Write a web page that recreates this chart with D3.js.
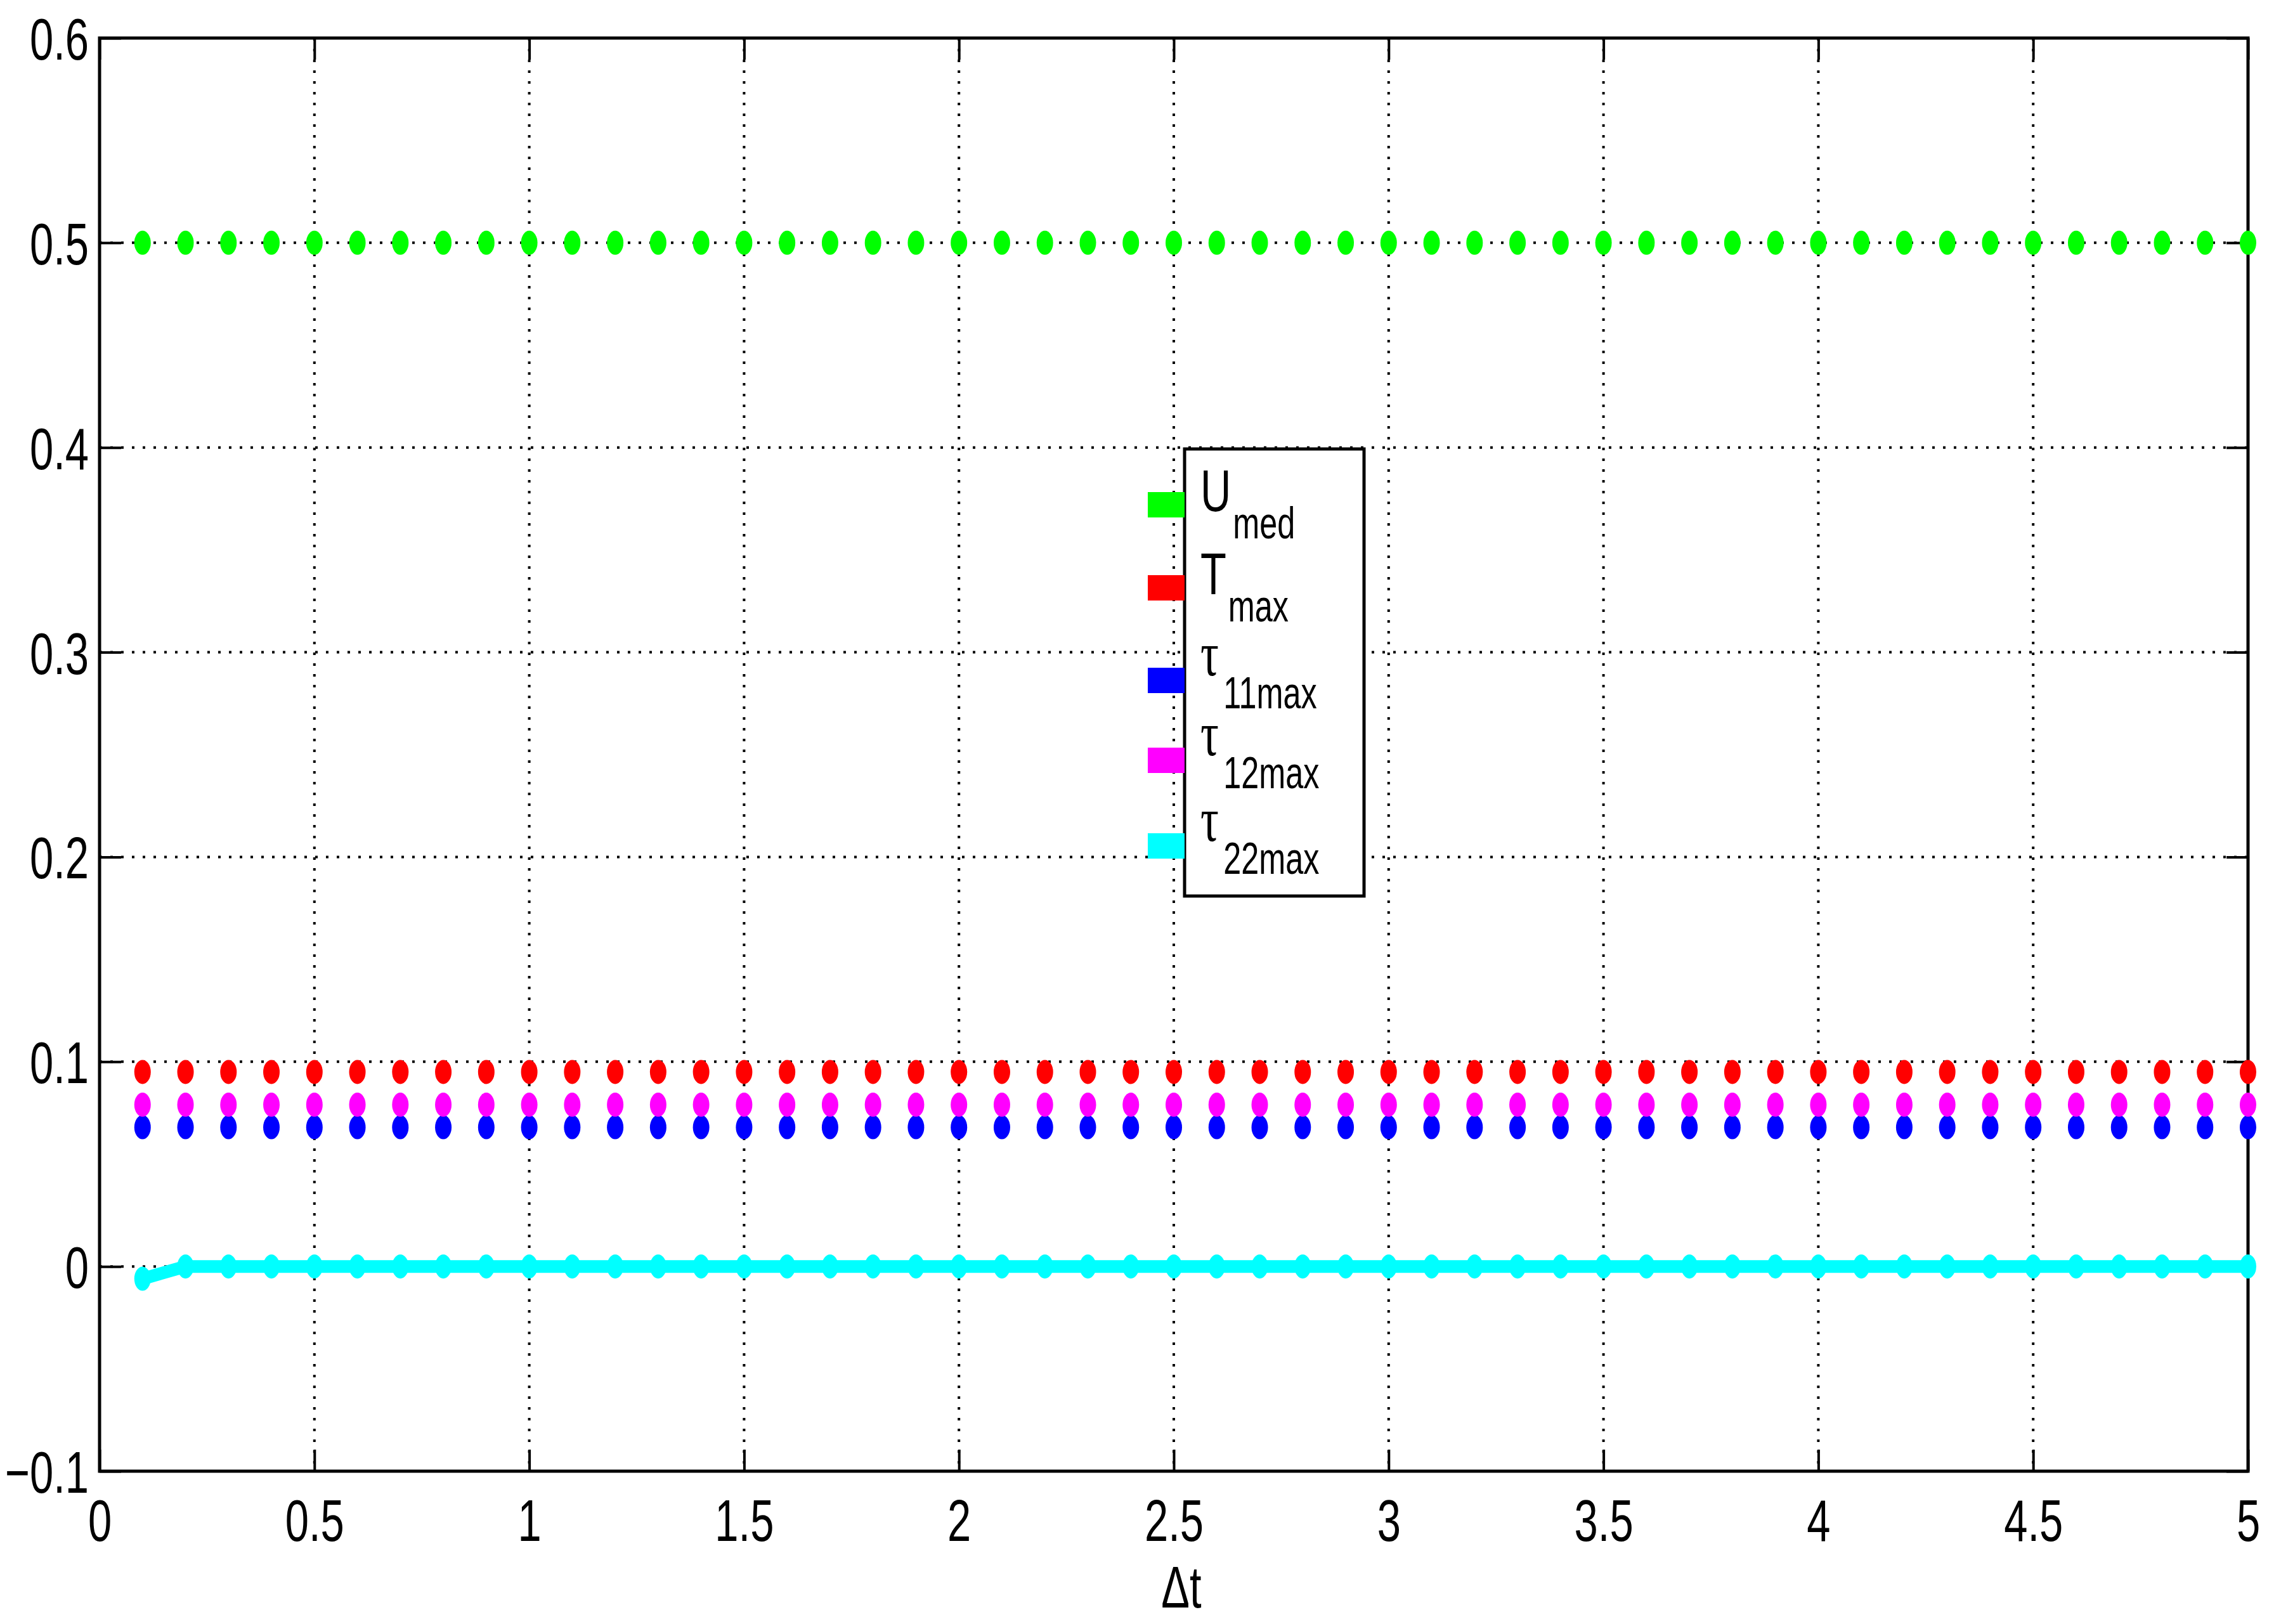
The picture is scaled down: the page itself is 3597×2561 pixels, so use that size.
<!DOCTYPE html>
<html>
<head>
<meta charset="utf-8">
<script src="https://cdn.jsdelivr.net/npm/d3@7"></script>
<style>
body { margin: 0; background: #fff; }
text { font-family: "Liberation Sans", Arial, sans-serif; fill: #000; }
</style>
</head>
<body>
<script>
// time steps
var dt = [0.1, 0.2, 0.3, 0.4, 0.5, 0.6, 0.7, 0.8, 0.9, 1.0,
          1.1, 1.2, 1.3, 1.4, 1.5, 1.6, 1.7, 1.8, 1.9, 2.0,
          2.1, 2.2, 2.3, 2.4, 2.5, 2.6, 2.7, 2.8, 2.9, 3.0,
          3.1, 3.2, 3.3, 3.4, 3.5, 3.6, 3.7, 3.8, 3.9, 4.0,
          4.1, 4.2, 4.3, 4.4, 4.5, 4.6, 4.7, 4.8, 4.9, 5.0];

var uMed   = dt.map(function () { return 0.5; });
var tMax   = dt.map(function () { return 0.095; });
var tau11  = dt.map(function () { return 0.068; });
var tau12  = dt.map(function () { return 0.079; });
var tau22  = [-0.006, 0, 0, 0, 0, 0, 0, 0, 0, 0,
              0, 0, 0, 0, 0, 0, 0, 0, 0, 0,
              0, 0, 0, 0, 0, 0, 0, 0, 0, 0,
              0, 0, 0, 0, 0, 0, 0, 0, 0, 0,
              0, 0, 0, 0, 0, 0, 0, 0, 0, 0];

var xTicks = [0, 0.5, 1, 1.5, 2, 2.5, 3, 3.5, 4, 4.5, 5];
var yTicks = [-0.1, 0, 0.1, 0.2, 0.3, 0.4, 0.5, 0.6];

var series = [
  { main: "U", sub: "med", greek: false, color: "#00ff00", values: uMed, line: false },
  { main: "T", sub: "max", greek: false, color: "#ff0000", values: tMax, line: false },
  { main: "\u03c4", sub: "11max", greek: true, color: "#0000ff", values: tau11, line: false },
  { main: "\u03c4", sub: "12max", greek: true, color: "#ff00ff", values: tau12, line: false },
  { main: "\u03c4", sub: "22max", greek: true, color: "#00ffff", values: tau22, line: true }
];

var W = 3597, H = 2561;
var pLeft = 157, pRight = 3545, pTop = 60, pBottom = 2320;
var sx = 0.72; // narrow glyphs like the original

var svg = d3.select("body").append("svg").attr("width", W).attr("height", H);

var x = d3.scaleLinear().domain([0, 5]).range([pLeft, pRight]);
var y = d3.scaleLinear().domain([-0.1, 0.6]).range([pBottom, pTop]);

// dotted grid
var grid = svg.append("g");
grid.selectAll(".gx").data(xTicks.slice(1, -1)).join("line").attr("class", "gx")
  .attr("x1", d => x(d)).attr("x2", d => x(d)).attr("y1", pTop).attr("y2", pBottom)
  .attr("stroke", "#000").attr("stroke-width", 4).attr("stroke-dasharray", "4,13");
grid.selectAll(".gy").data(yTicks.slice(1, -1)).join("line").attr("class", "gy")
  .attr("x1", pLeft).attr("x2", pRight).attr("y1", d => y(d)).attr("y2", d => y(d))
  .attr("stroke", "#000").attr("stroke-width", 4).attr("stroke-dasharray", "4,13");

// axes, ticks pointing inward on all four sides
function styleAxis(g) {
  g.select(".domain").remove();
  g.selectAll("line").attr("stroke", "#000").attr("stroke-width", 4);
}
svg.append("g").attr("transform", "translate(0," + pBottom + ")")
  .call(d3.axisBottom(x).tickValues(xTicks).tickSize(-34).tickPadding(0).tickFormat(d3.format("")))
  .call(styleAxis)
  .call(g => g.selectAll("text").attr("font-size", 93).attr("y", 110).attr("dy", 0)
    .attr("transform", "scale(" + sx + ",1)"));
svg.append("g").attr("transform", "translate(0," + pTop + ")")
  .call(d3.axisTop(x).tickValues(xTicks).tickSize(-34).tickFormat(""))
  .call(styleAxis);
svg.append("g").attr("transform", "translate(" + pLeft + ",0)")
  .call(d3.axisLeft(y).tickValues(yTicks).tickSize(-34).tickFormat(d => d3.format("")(d).replace("-", "\u2212")))
  .call(styleAxis)
  .call(g => g.selectAll("text").attr("font-size", 93).attr("x", -17 / sx).attr("dy", "0.36em")
    .attr("transform", "scale(" + sx + ",1)"));
svg.append("g").attr("transform", "translate(" + pRight + ",0)")
  .call(d3.axisRight(y).tickValues(yTicks).tickSize(-34).tickFormat(""))
  .call(styleAxis);

svg.append("rect").attr("x", pLeft).attr("y", pTop)
  .attr("width", pRight - pLeft).attr("height", pBottom - pTop)
  .attr("fill", "none").attr("stroke", "#000").attr("stroke-width", 5);

// series
var line = d3.line().x((d, i) => x(dt[i])).y(d => y(d));
series.forEach(function (s) {
  var g = svg.append("g");
  if (s.line) {
    g.append("path").datum(s.values).attr("d", line)
      .attr("fill", "none").attr("stroke", s.color).attr("stroke-width", 20);
  }
  g.selectAll("ellipse").data(s.values).join("ellipse")
    .attr("cx", (d, i) => x(dt[i])).attr("cy", d => y(d))
    .attr("rx", 13).attr("ry", 19).attr("fill", s.color);
});

// x label
svg.append("text").attr("transform", "translate(1863,2535) scale(" + sx + ",1)")
  .attr("text-anchor", "middle").attr("font-size", 93).text("\u0394t");

// legend
var lg = svg.append("g");
lg.append("rect").attr("x", 1868).attr("y", 708).attr("width", 283).attr("height", 705)
  .attr("fill", "#fff").attr("stroke", "#000").attr("stroke-width", 5);
var legY = [796, 927, 1073, 1199, 1334];
series.forEach(function (s, i) {
  lg.append("rect").attr("x", 1810).attr("y", legY[i] - 20).attr("width", 58).attr("height", 40)
    .attr("fill", s.color);
  var t = lg.append("text")
    .attr("transform", "translate(1893," + (legY[i] + (s.greek ? -8 : 10)) + ") scale(" + sx + ",1)");
  t.append("tspan").attr("font-size", s.greek ? 100 : 93)
    .attr("font-family", s.greek ? "Liberation Serif, serif" : null).text(s.main);
  t.append("tspan").attr("font-size", 70).attr("dy", s.greek ? 52 : 43).attr("dx", s.greek ? 10 : 4).text(s.sub);
});
</script>
</body>
</html>
